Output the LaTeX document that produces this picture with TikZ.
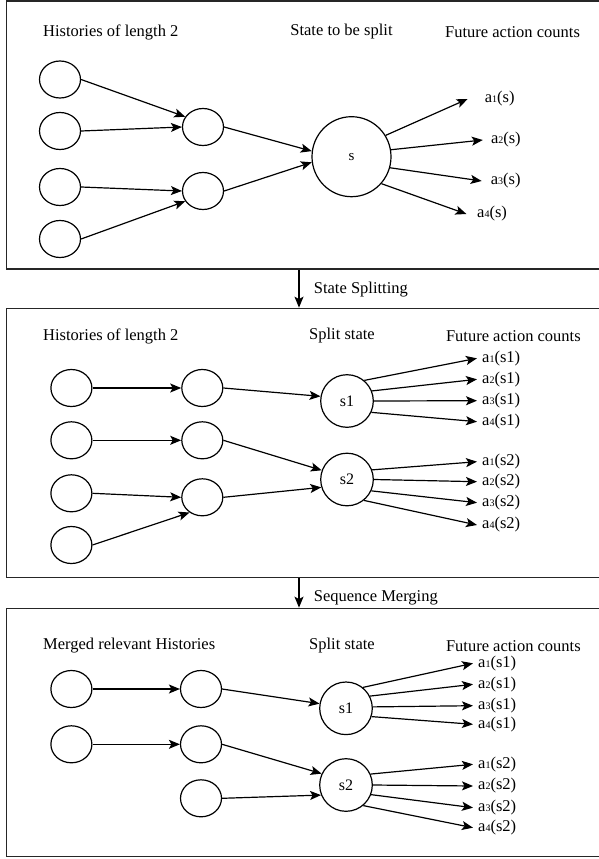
\documentclass[tikz,border=0pt]{standalone}
\usepackage{fontspec}
\setmainfont{Liberation Serif}
\usetikzlibrary{shapes.geometric,arrows.meta}
\newcommand{\actsub}[1]{{\fontsize{10}{10}\selectfont #1}}
\begin{document}
\begin{tikzpicture}[x=1pt,y=-1pt,
  hist/.style={draw, ellipse, line width=1.2pt, minimum width=41pt, minimum height=37pt, inner sep=0pt},
  bigst/.style={draw, ellipse, line width=1.2pt, minimum width=79pt, minimum height=80pt, inner sep=0pt, font=\fontsize{15}{15}\selectfont},
  st/.style={draw, ellipse, line width=1.2pt, minimum width=52.6pt, minimum height=52.6pt, inner sep=0pt, font=\fontsize{16}{16}\selectfont},
  head/.style={font=\fontsize{16.5}{18}\selectfont, inner sep=0pt},
  lab/.style={anchor=west, font=\fontsize{16.5}{18}\selectfont, inner ysep=0pt, inner xsep=5pt},
  arr/.style={-{Stealth[length=11pt,width=9pt,inset=2.5pt]}, line width=1.2pt},
  panel/.style={draw, line width=1.3pt, black!85, inner sep=0pt}]
\useasboundingbox (0,0) rectangle (599,859);

% panels
\node[panel, minimum width=603.5pt, minimum height=268pt] (p1) at (308.25,135) {};
\node[panel, minimum width=603.5pt, minimum height=269.4pt] (p2) at (308.25,443) {};
\node[panel, minimum width=603.5pt, minimum height=248.4pt] (p3) at (308.25,732.5) {};
\coordinate (ax) at (299,0);
\draw[arr] (p1.south -| ax) -- (p2.north -| ax);
\draw[arr] (p2.south -| ax) -- (p3.north -| ax);
\node[head, anchor=west] (t12) at (313.7,290) {State Splitting};
\node[head, anchor=west] (t23) at (313.7,598.3) {Sequence Merging};

% ---------- panel 1 ----------
\node[head, anchor=west] (h1a) at (43,32) {Histories of length 2};
\node[head] (h1b) at (341.5,32) {State to be split};
\node[head, anchor=west] (h1c) at (445,32) {Future action counts};
\node[hist] (c1) at (60,79.5) {};
\node[hist] (c2) at (60,131) {};
\node[hist] (c3) at (60,187) {};
\node[hist] (c4) at (60,239) {};
\node[hist] (m1) at (203,127) {};
\node[hist] (m2) at (203,191) {};
\node[bigst] (s) at (351.5,156.7) {s};
\node[lab, inner xsep=17pt] (la1) at (467.6,99) {a\actsub{1}(s)};
\node[lab, inner xsep=8pt] (la2) at (482.8,140) {a\actsub{2}(s)};
\node[lab, inner xsep=9pt] (la3) at (481.7,181) {a\actsub{3}(s)};
\node[lab, inner xsep=10.6pt] (la4) at (466.4,214) {a\actsub{4}(s)};
\draw[arr] (c1.east) -- (m1.150);
\draw[arr] (c2.east) -- (m1.west);
\draw[arr] (c3.east) -- (m2.west);
\draw[arr] (c4.east) -- (m2.210);
\draw[arr] (m1.east) -- (s.172);
\draw[arr] (m2.east) -- (s.188);
\draw[arr] (s.32) -- (la1.west);
\draw[arr] (s.10) -- (la2.west);
\draw[arr] (s.-16) -- (la3.west);
\draw[arr] (s.-42) -- (la4.west);

% ---------- panel 2 ----------
\node[head, anchor=west] (h2a) at (43,336) {Histories of length 2};
\node[head] (h2b) at (342,336) {Split state};
\node[head, anchor=west] (h2c) at (445.8,336) {Future action counts};
\node[hist] (L1) at (71.4,388) {};
\node[hist] (L2) at (71.4,440.3) {};
\node[hist] (L3) at (71.4,493.3) {};
\node[hist] (L4) at (71.4,545) {};
\node[hist] (M1) at (202.3,388) {};
\node[hist] (M2) at (202.3,440.3) {};
\node[hist] (M3) at (202.3,497.3) {};
\node[st] (sa) at (347,401) {s1};
\node[st] (sb) at (347,479.5) {s2};
\node[lab] (b1) at (477,358.3) {a\actsub{1}(s1)};
\node[lab] (b2) at (477,379.3) {a\actsub{2}(s1)};
\node[lab] (b3) at (477,400.7) {a\actsub{3}(s1)};
\node[lab] (b4) at (477,421.7) {a\actsub{4}(s1)};
\node[lab] (b5) at (477,461.7) {a\actsub{1}(s2)};
\node[lab] (b6) at (477,481.7) {a\actsub{2}(s2)};
\node[lab] (b7) at (477,502.7) {a\actsub{3}(s2)};
\node[lab] (b8) at (477,525) {a\actsub{4}(s2)};
\draw[arr] (L1.east) -- (M1.west);
\draw[arr] (L2.east) -- (M2.west);
\draw[arr] (L3.east) -- (M3.west);
\draw[arr] (L4.east) -- (M3.230);
\draw[arr] (M1.east) -- (sa.170);
\draw[arr] (M2.east) -- (sb.160);
\draw[arr] (M3.east) -- (sb.197);
\draw[arr] (sa.50) -- (b1.west);
\draw[arr] (sa.22) -- (b2.west);
\draw[arr] (sa.0) -- (b3.west);
\draw[arr] (sa.-25) -- (b4.west);
\draw[arr] (sb.21) -- (b5.west);
\draw[arr] (sb.0) -- (b6.west);
\draw[arr] (sb.-25) -- (b7.west);
\draw[arr] (sb.-51) -- (b8.west);

% ---------- panel 3 ----------
\node[head, anchor=west] (h3a) at (43,645.7) {Merged relevant Histories};
\node[head] (h3b) at (342,645.7) {Split state};
\node[head, anchor=west] (h3c) at (445.8,645.7) {Future action counts};
\node[hist] (N1) at (71.4,689) {};
\node[hist] (N2) at (71.4,744.3) {};
\node[hist] (K1) at (201,689) {};
\node[hist] (K2) at (201,744.3) {};
\node[hist] (K3) at (201,798.3) {};
\node[st] (sc) at (346,708.3) {s1};
\node[st] (sd) at (346,785) {s2};
\node[lab] (d1) at (473,663.3) {a\actsub{1}(s1)};
\node[lab] (d2) at (473,684.3) {a\actsub{2}(s1)};
\node[lab] (d3) at (473,705.7) {a\actsub{3}(s1)};
\node[lab] (d4) at (473,724.3) {a\actsub{4}(s1)};
\node[lab] (d5) at (473,764.3) {a\actsub{1}(s2)};
\node[lab] (d6) at (473,786) {a\actsub{2}(s2)};
\node[lab] (d7) at (473,807.7) {a\actsub{3}(s2)};
\node[lab] (d8) at (473,827.7) {a\actsub{4}(s2)};
\draw[arr] (N1.east) -- (K1.west);
\draw[arr] (N2.east) -- (K2.west);
\draw[arr] (K1.east) -- (sc.170);
\draw[arr] (K2.east) -- (sd.155);
\draw[arr] (K3.east) -- (sd.202);
\draw[arr] (sc.51) -- (d1.west);
\draw[arr] (sc.27) -- (d2.west);
\draw[arr] (sc.3) -- (d3.west);
\draw[arr] (sc.-18) -- (d4.west);
\draw[arr] (sd.24) -- (d5.west);
\draw[arr] (sd.0) -- (d6.west);
\draw[arr] (sd.-21) -- (d7.west);
\draw[arr] (sd.-50) -- (d8.west);
\end{tikzpicture}
\end{document}
